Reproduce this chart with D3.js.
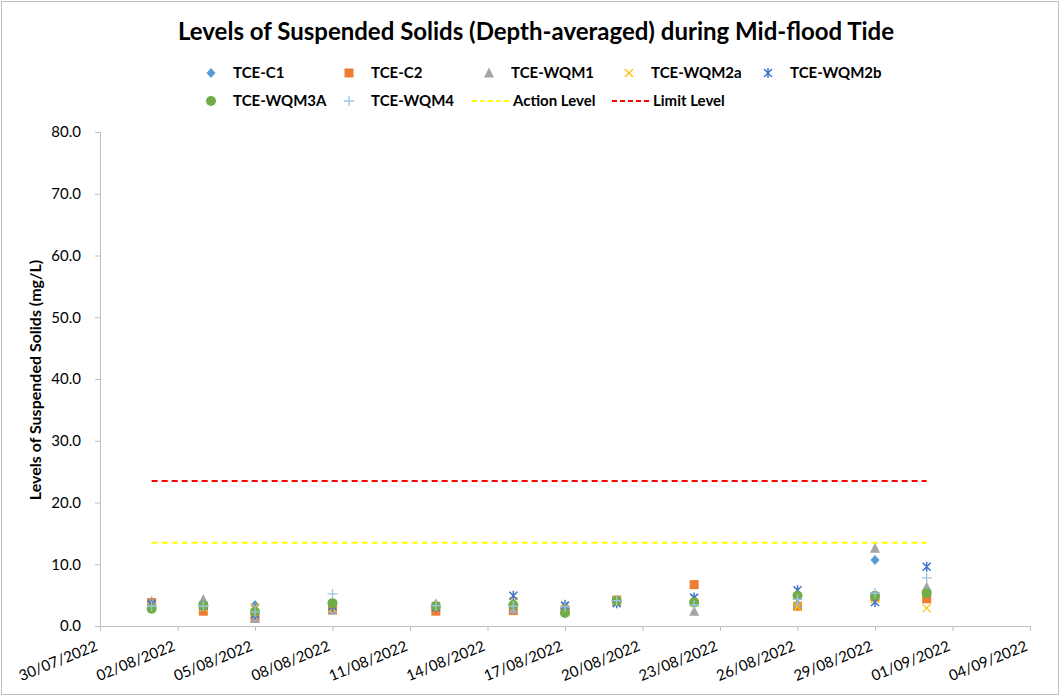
<!DOCTYPE html>
<html>
<head>
<meta charset="utf-8">
<script src="https://cdn.jsdelivr.net/npm/d3@7"></script>
<style>
  body { margin: 0; background: #fff; }
  svg text { font-family: Lato, "Open Sans", sans-serif; fill: #000; }
</style>
</head>
<body>
<svg id="chart" width="1061" height="698"></svg>
<script>
// sampling dates
const dates = ["2022-08-01","2022-08-03","2022-08-05","2022-08-08","2022-08-12","2022-08-15",
               "2022-08-17","2022-08-19","2022-08-22","2022-08-26","2022-08-29","2022-08-31"];

const seriesNames = ["TCE-C1","TCE-C2","TCE-WQM1","TCE-WQM2a","TCE-WQM2b","TCE-WQM3A","TCE-WQM4"];

const tceC1    = [3.6, 3.4, 3.4, 3.2, 3.0, 3.0, 3.0, 4.1, 4.2, 5.0, 10.7, 5.8];
const tceC2    = [3.8, 2.4, 1.4, 2.6, 2.4, 2.5, 2.6, 4.2, 6.7, 3.2, 4.7, 4.4];
const tceWQM1  = [4.0, 4.3, 1.2, 2.6, 3.6, 2.7, 3.5, 4.0, 2.4, 3.6, 12.6, 6.3];
const tceWQM2a = [3.4, 3.0, 3.0, 2.9, 3.3, 4.0, 2.8, 4.1, 3.8, 3.1, 4.4, 2.9];
const tceWQM2b = [3.5, 3.3, 1.9, 3.2, 3.1, 4.9, 3.3, 3.7, 4.6, 5.8, 3.9, 9.6];
const tceWQM3A = [2.8, 3.3, 2.3, 3.7, 3.2, 3.4, 2.1, 4.1, 3.8, 4.9, 4.9, 5.3];
const tceWQM4  = [3.2, 3.2, 2.3, 5.2, 3.3, 3.2, 3.1, 4.1, 3.4, 4.3, 5.3, 7.8];

const actionLevel = 13.5;
const limitLevel = 23.5;

const yTicks = [0, 10, 20, 30, 40, 50, 60, 70, 80];
const xStart = "2022-07-30", xEnd = "2022-09-04";

var parse = d3.timeParse("%Y-%m-%d");
var fmt = d3.timeFormat("%d/%m/%Y");

var svg = d3.select("#chart");

// outer border
svg.append("rect").attr("x", 1.5).attr("y", 1.5).attr("width", 1057).attr("height", 693)
   .attr("fill", "none").attr("stroke", "#bfbfbf").attr("stroke-width", 1);

var x = d3.scaleTime().domain([parse(xStart), parse(xEnd)]).range([100, 1030]);
var y = d3.scaleLinear().domain([0, 80]).range([626, 132]);

svg.append("text").attr("x", 536).attr("y", 40).attr("text-anchor", "middle")
   .style("font-size", "24px").style("font-weight", "bold")
   .text("Levels of Suspended Solids (Depth-averaged) during Mid-flood Tide");

// y axis
var yAxis = d3.axisLeft(y).tickValues(yTicks).tickFormat(d3.format(".1f")).tickSize(5).tickPadding(14);
var yg = svg.append("g").attr("transform", "translate(100,0)").call(yAxis);
yg.select(".domain").attr("stroke", "#bfbfbf");
yg.selectAll(".tick line").attr("stroke", "#bfbfbf");
yg.selectAll("text").style("font-size", "15px").style("font-family", "Lato, sans-serif");

svg.append("text").attr("transform", "translate(41,380) rotate(-90)").attr("text-anchor", "middle")
   .style("font-size", "16px").style("font-weight", "bold")
   .text("Levels of Suspended Solids (mg/L)");

// x axis
var xTickVals = d3.timeDay.range(parse(xStart), d3.timeDay.offset(parse(xEnd), 1), 3);
var xAxis = d3.axisBottom(x).tickValues(xTickVals).tickFormat(fmt).tickSize(5);
var xg = svg.append("g").attr("transform", "translate(0,626)").call(xAxis);
xg.select(".domain").attr("stroke", "#bfbfbf").attr("d", "M100,0.5H1030");
xg.selectAll(".tick line").attr("stroke", "#bfbfbf");
xg.selectAll("text")
  .style("font-size", "15px").style("font-family", "Lato, sans-serif")
  .attr("text-anchor", "end").attr("dy", null).attr("y", 0)
  .attr("transform", "translate(-2,24) rotate(-22)");

// reference lines
var d0 = parse(dates[0]), d1 = parse(dates[dates.length - 1]);
svg.append("line").attr("x1", x(d0)).attr("x2", x(d1)).attr("y1", y(actionLevel)).attr("y2", y(actionLevel))
   .attr("stroke", "#ffff00").attr("stroke-width", 2).attr("stroke-dasharray", "6,4");
svg.append("line").attr("x1", x(d0)).attr("x2", x(d1)).attr("y1", y(limitLevel)).attr("y2", y(limitLevel))
   .attr("stroke", "#ff0000").attr("stroke-width", 2).attr("stroke-dasharray", "6,4");

// markers
function drawMarker(g, type, color) {
  if (type == "diamond") {
    g.append("path").attr("d", "M0,-5L4.5,0L0,5L-4.5,0Z").attr("fill", color);
  } else if (type == "square") {
    g.append("rect").attr("x", -4.5).attr("y", -4.5).attr("width", 9).attr("height", 9).attr("fill", color);
  } else if (type == "triangle") {
    g.append("path").attr("d", "M0,-5.5L5,4.5L-5,4.5Z").attr("fill", color);
  } else if (type == "x") {
    g.append("path").attr("d", "M-4,-4L4,4M4,-4L-4,4").attr("stroke", color).attr("stroke-width", 1.3).attr("fill", "none");
  } else if (type == "star") {
    g.append("path").attr("d", "M-4,-4L4,4M4,-4L-4,4M0,-5V5").attr("stroke", color).attr("stroke-width", 1.5).attr("fill", "none");
  } else if (type == "circle") {
    g.append("circle").attr("r", 5).attr("fill", color);
  } else if (type == "plus") {
    g.append("path").attr("d", "M-5,0H5M0,-5V5").attr("stroke", color).attr("stroke-width", 1.3).attr("fill", "none");
  }
}

var series = [
  {name: seriesNames[0], values: tceC1,    type: "diamond",  color: "#5b9bd5"},
  {name: seriesNames[1], values: tceC2,    type: "square",   color: "#ed7d31"},
  {name: seriesNames[2], values: tceWQM1,  type: "triangle", color: "#a5a5a5"},
  {name: seriesNames[3], values: tceWQM2a, type: "x",        color: "#ffc000"},
  {name: seriesNames[4], values: tceWQM2b, type: "star",     color: "#4472c4"},
  {name: seriesNames[5], values: tceWQM3A, type: "circle",   color: "#70ad47"},
  {name: seriesNames[6], values: tceWQM4,  type: "plus",     color: "#9dc3e6"}
];

series.forEach(function(s) {
  s.values.forEach(function(v, i) {
    var g = svg.append("g").attr("transform", "translate(" + x(parse(dates[i])) + "," + y(v) + ")");
    drawMarker(g, s.type, s.color);
  });
});

// legend
var legendPos = [
  [211, 73], [349, 73], [489, 73], [629, 73], [768, 73],
  [211, 101], [349, 101]
];
series.forEach(function(s, i) {
  var g = svg.append("g").attr("transform", "translate(" + legendPos[i][0] + "," + legendPos[i][1] + ")");
  drawMarker(g, s.type, s.color);
  g.append("text").attr("x", 22).attr("y", 5).style("font-size", "15px").style("font-weight", "bold").text(s.name);
});
var lineLegend = [
  {name: "Action Level", color: "#ffff00", x: 472},
  {name: "Limit Level", color: "#ff0000", x: 612}
];
lineLegend.forEach(function(l) {
  var g = svg.append("g").attr("transform", "translate(" + l.x + ",101)");
  g.append("line").attr("x1", 0).attr("x2", 38).attr("y1", 0).attr("y2", 0)
   .attr("stroke", l.color).attr("stroke-width", 2).attr("stroke-dasharray", "5,3");
  g.append("text").attr("x", 41).attr("y", 5).style("font-size", "15px").style("font-weight", "bold").text(l.name);
});
</script>
</body>
</html>
